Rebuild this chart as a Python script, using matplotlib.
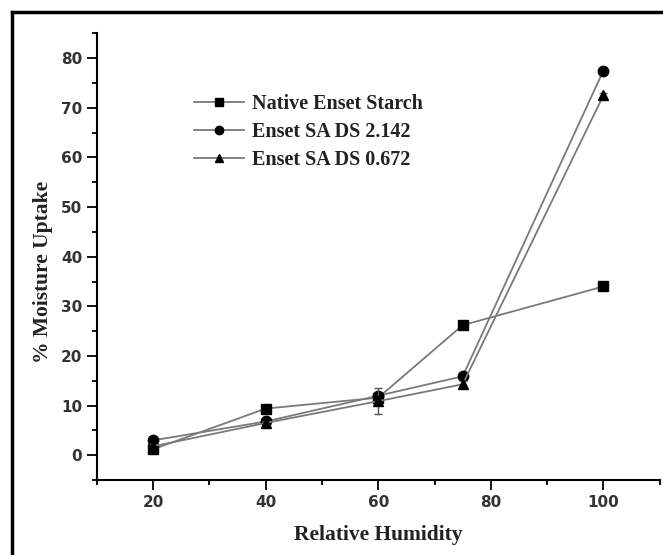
import matplotlib
matplotlib.use("Agg")
import matplotlib.pyplot as plt
from matplotlib.lines import Line2D
from matplotlib.ticker import MultipleLocator

# relative humidity (%) and moisture uptake (%)
humidity = [20, 40, 60, 75, 100]
native_starch = [1.2, 9.4, 11.6, 26.2, 34.0]
sa_ds_2142 = [3.0, 6.8, 12.0, 15.9, 77.5]
sa_ds_0672 = [1.8, 6.5, 10.9, 14.3, 72.5]
sa_ds_0672_err = [0.4, 0.3, 2.6, 0.6, 0.5]

serif = "Liberation Serif"
line_col = "#7a7a7a"

fig = plt.figure(figsize=(6.63, 5.55), dpi=100)
ax = fig.add_axes([0.146, 0.135, 0.849, 0.805])

ax.plot(humidity, native_starch, color=line_col, lw=1.3, marker="s", ms=7,
        mfc="black", mec="black", zorder=3)
ax.plot(humidity, sa_ds_2142, color=line_col, lw=1.3, marker="o", ms=7.5,
        mfc="black", mec="black", zorder=3)
ax.errorbar(humidity, sa_ds_0672, yerr=sa_ds_0672_err, color=line_col, lw=1.3,
            marker="^", ms=7.5, mfc="black", mec="black", ecolor="#555555",
            elinewidth=1, capsize=3, zorder=3)

ax.set_xlim(10, 110)
ax.set_ylim(-5, 85)
ax.xaxis.set_major_locator(MultipleLocator(20))
ax.xaxis.set_minor_locator(MultipleLocator(10))
ax.yaxis.set_major_locator(MultipleLocator(10))
ax.yaxis.set_minor_locator(MultipleLocator(5))
ax.set_xticks([20, 40, 60, 80, 100])
ax.tick_params(which="major", direction="out", length=7, width=1.3, labelsize=11)
ax.tick_params(which="minor", direction="out", length=3.5, width=1.3)
for lab in ax.get_xticklabels() + ax.get_yticklabels():
    lab.set_fontweight("bold")
    lab.set_color("#333333")
ax.spines["top"].set_visible(False)
ax.spines["right"].set_visible(False)
for s in ("left", "bottom"):
    ax.spines[s].set_linewidth(1.5)

ax.set_xlabel("Relative Humidity", fontfamily=serif, fontsize=15.5,
              fontweight="bold", color="#222222", labelpad=11)
ax.set_ylabel("% Moisture Uptake", fontfamily=serif, fontsize=15.5,
              fontweight="bold", color="#222222")
ax.yaxis.set_label_coords(-0.078, 0.465)

handles = [
    Line2D([], [], color=line_col, lw=1.3, marker="s", ms=6, mfc="black", mec="black"),
    Line2D([], [], color=line_col, lw=1.3, marker="o", ms=6, mfc="black", mec="black"),
    Line2D([], [], color=line_col, lw=1.3, marker="^", ms=6, mfc="black", mec="black"),
]
labels = ["Native Enset Starch", "Enset SA DS 2.142", "Enset SA DS 0.672"]
ax.legend(handles, labels, loc="upper left", bbox_to_anchor=(0.14, 0.905),
          frameon=False, prop={"family": serif, "size": 14.5, "weight": "bold"},
          handlelength=2.5, handletextpad=0.4, labelspacing=0.4,
          labelcolor="#222222")

# partial frame around the figure
fig.add_artist(Line2D([12 / 663, 12 / 663], [0, 1 - 12 / 555], color="black",
                      lw=2.5, transform=fig.transFigure))
fig.add_artist(Line2D([12 / 663, 1], [1 - 12 / 555, 1 - 12 / 555], color="black",
                      lw=2.5, transform=fig.transFigure))

fig.savefig("out.png", dpi=100)
